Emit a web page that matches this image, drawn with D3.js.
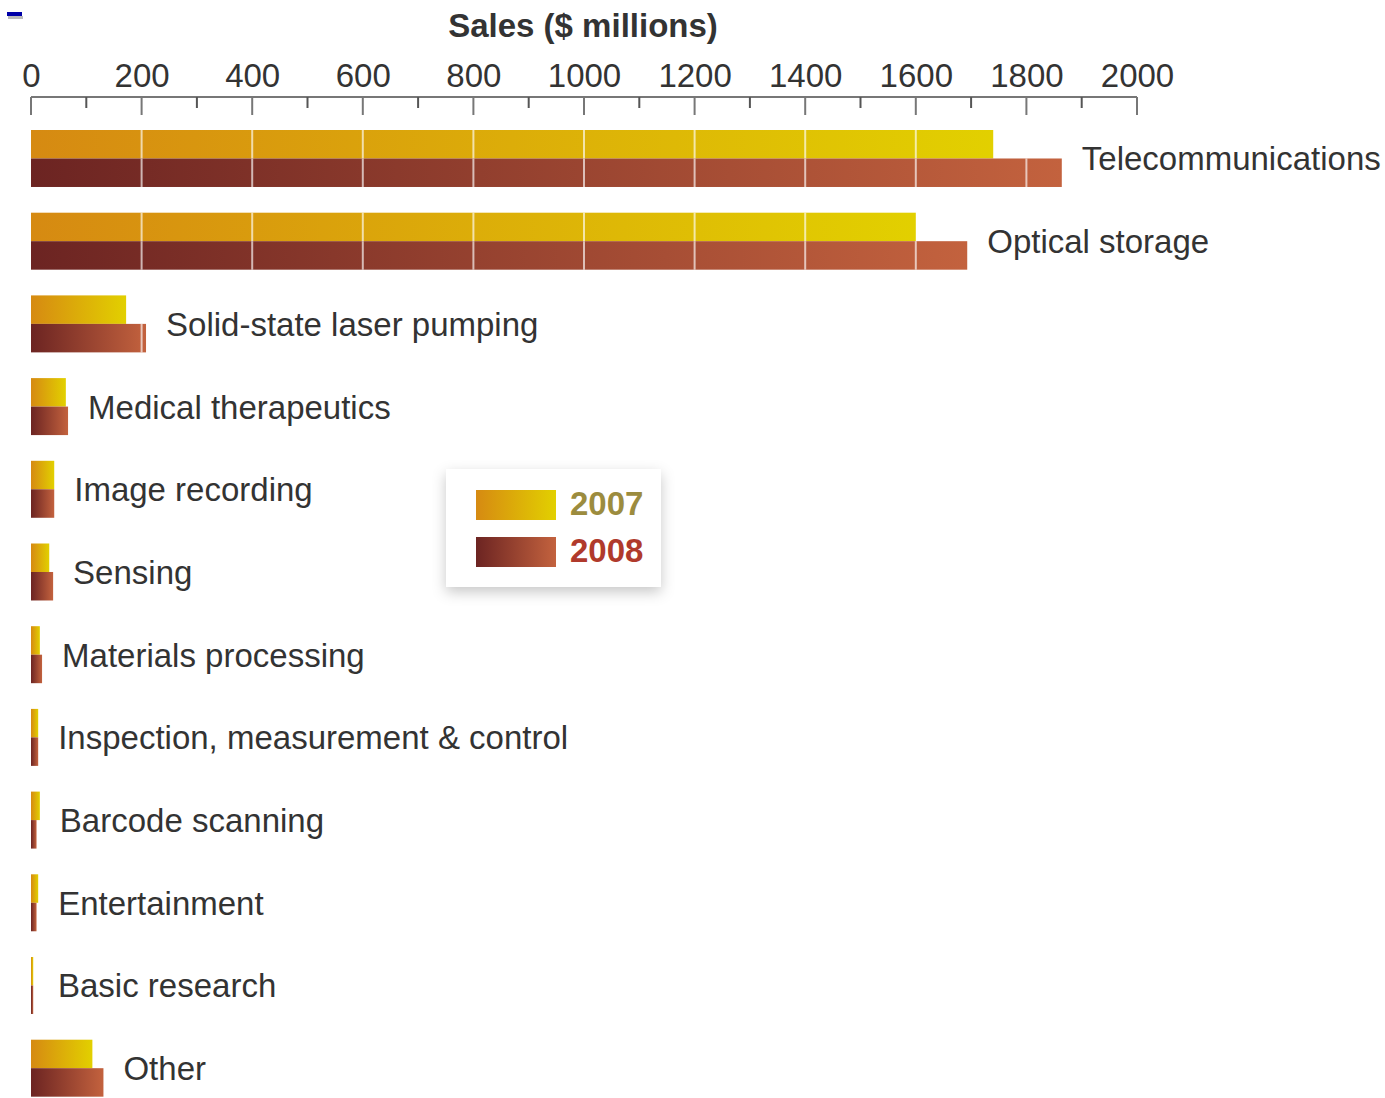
<!DOCTYPE html>
<html>
<head>
<meta charset="utf-8">
<script src="https://cdn.jsdelivr.net/npm/d3@7"></script>
<style>
  html, body { margin: 0; padding: 0; background: #ffffff; }
  svg { display: block; }
  text { font-family: "Liberation Sans", Arial, Helvetica, sans-serif; }
</style>
</head>
<body>
<svg id="chart" width="1385" height="1098"></svg>
<script>
// Laser diode sales by application, $ millions
const categories = [
  "Telecommunications", "Optical storage", "Solid-state laser pumping",
  "Medical therapeutics", "Image recording", "Sensing", "Materials processing",
  "Inspection, measurement & control", "Barcode scanning", "Entertainment",
  "Basic research", "Other"
];
const sales2007 = [1740, 1600, 172, 63, 42, 33, 16, 13, 16, 13, 4, 111];
const sales2008 = [1864, 1693, 208, 67, 42, 40, 20, 13, 10, 10, 4, 131];
const years = ["2007", "2008"];
const tickValues = [0, 200, 400, 600, 800, 1000, 1200, 1400, 1600, 1800, 2000];
const minorTicks = [100, 300, 500, 700, 900, 1100, 1300, 1500, 1700, 1900];

const svg = d3.select("#chart");
const defs = svg.append("defs");

// Horizontal gradients, one per year, stretched over each bar
const gradStops = {
  "2007": ["#d68a12", "#e2d000"],
  "2008": ["#6c2422", "#c3623e"]
};
years.forEach(y => {
  const g = defs.append("linearGradient")
    .attr("id", "grad" + y)
    .attr("x1", "0%").attr("x2", "100%").attr("y1", "0%").attr("y2", "0%");
  g.append("stop").attr("offset", "0%").attr("stop-color", gradStops[y][0]);
  g.append("stop").attr("offset", "100%").attr("stop-color", gradStops[y][1]);
});

const shadow = defs.append("filter").attr("id", "legendShadow")
  .attr("x", "-20%").attr("y", "-20%").attr("width", "140%").attr("height", "150%");
shadow.append("feDropShadow")
  .attr("dx", 0).attr("dy", 5).attr("stdDeviation", 7)
  .attr("flood-color", "#000").attr("flood-opacity", 0.22);

// Scales
const x = d3.scaleLinear().domain([0, 2000]).range([31, 1137]);
const step = 82.7;
const y = d3.scaleBand()
  .domain(categories)
  .range([130, 130 + categories.length * step - 0.311 * step])
  .paddingInner(0.311)
  .paddingOuter(0);
const half = y.bandwidth() / 2;

// Small marker in the corner
svg.append("rect").attr("x", 8).attr("y", 16).attr("width", 15).attr("height", 3).attr("fill", "#bbbbbb");
svg.append("rect").attr("x", 7).attr("y", 12).attr("width", 15).attr("height", 4).attr("fill", "#0000a8");

// Axis title
svg.append("text")
  .attr("x", 583).attr("y", 37)
  .attr("text-anchor", "middle")
  .attr("font-size", 33).attr("font-weight", "bold")
  .attr("fill", "#333")
  .text("Sales ($ millions)");

// Top axis
const axisY = 97;
const axis = d3.axisTop(x)
  .tickValues(tickValues)
  .tickSize(0)
  .tickPadding(10)
  .tickFormat(d3.format("d"));
const axisG = svg.append("g").attr("transform", `translate(0,${axisY})`).call(axis);
axisG.select(".domain").remove();
axisG.selectAll("text")
  .attr("font-size", 33)
  .attr("fill", "#333")
  .attr("font-family", "Liberation Sans, Arial, sans-serif");

svg.append("line")
  .attr("x1", x(0)).attr("x2", x(2000))
  .attr("y1", axisY).attr("y2", axisY)
  .attr("stroke", "#777").attr("stroke-width", 2);
svg.selectAll(".majorTick").data(tickValues).join("line")
  .attr("class", "majorTick")
  .attr("x1", d => x(d)).attr("x2", d => x(d))
  .attr("y1", axisY).attr("y2", axisY + 18)
  .attr("stroke", "#777").attr("stroke-width", 2);
svg.selectAll(".minorTick").data(minorTicks).join("line")
  .attr("class", "minorTick")
  .attr("x1", d => x(d)).attr("x2", d => x(d))
  .attr("y1", axisY).attr("y2", axisY + 11)
  .attr("stroke", "#555").attr("stroke-width", 2);

// Bars
const rows = categories.map((c, i) => ({ cat: c, v2007: sales2007[i], v2008: sales2008[i] }));
const rowG = svg.selectAll(".row").data(rows).join("g").attr("class", "row");

years.forEach((yr, k) => {
  rowG.append("rect")
    .attr("x", x(0))
    .attr("y", d => y(d.cat) + k * half)
    .attr("width", d => x(d["v" + yr]) - x(0))
    .attr("height", half)
    .attr("fill", `url(#grad${yr})`);

  // light separators every 200 inside the bar
  rowG.each(function(d) {
    const v = d["v" + yr];
    const seps = tickValues.filter(t => t > 0 && t < v);
    d3.select(this).selectAll(".sep" + yr).data(seps).join("line")
      .attr("class", "sep" + yr)
      .attr("x1", t => x(t)).attr("x2", t => x(t))
      .attr("y1", y(d.cat) + k * half)
      .attr("y2", y(d.cat) + (k + 1) * half)
      .attr("stroke", "#ffffff").attr("stroke-opacity", 0.65)
      .attr("stroke-width", 2);
  });
});

// Category labels
rowG.append("text")
  .attr("x", d => Math.max(x(Math.max(d.v2007, d.v2008)), 38) + 20)
  .attr("y", d => y(d.cat) + half + 12)
  .attr("font-size", 33)
  .attr("fill", "#333")
  .text(d => d.cat);

// Legend
const legend = svg.append("g").attr("transform", "translate(446,469)");
legend.append("rect")
  .attr("width", 215).attr("height", 118)
  .attr("fill", "#fff")
  .attr("filter", "url(#legendShadow)");
const legendColors = { "2007": "#9c8c3e", "2008": "#b03a2c" };
years.forEach((yr, k) => {
  legend.append("rect")
    .attr("x", 30).attr("y", 21 + k * 47)
    .attr("width", 80).attr("height", 30)
    .attr("fill", `url(#grad${yr})`);
  legend.append("text")
    .attr("x", 124).attr("y", 46 + k * 47)
    .attr("font-size", 33).attr("font-weight", "bold")
    .attr("fill", legendColors[yr])
    .text(yr);
});
</script>
</body>
</html>
